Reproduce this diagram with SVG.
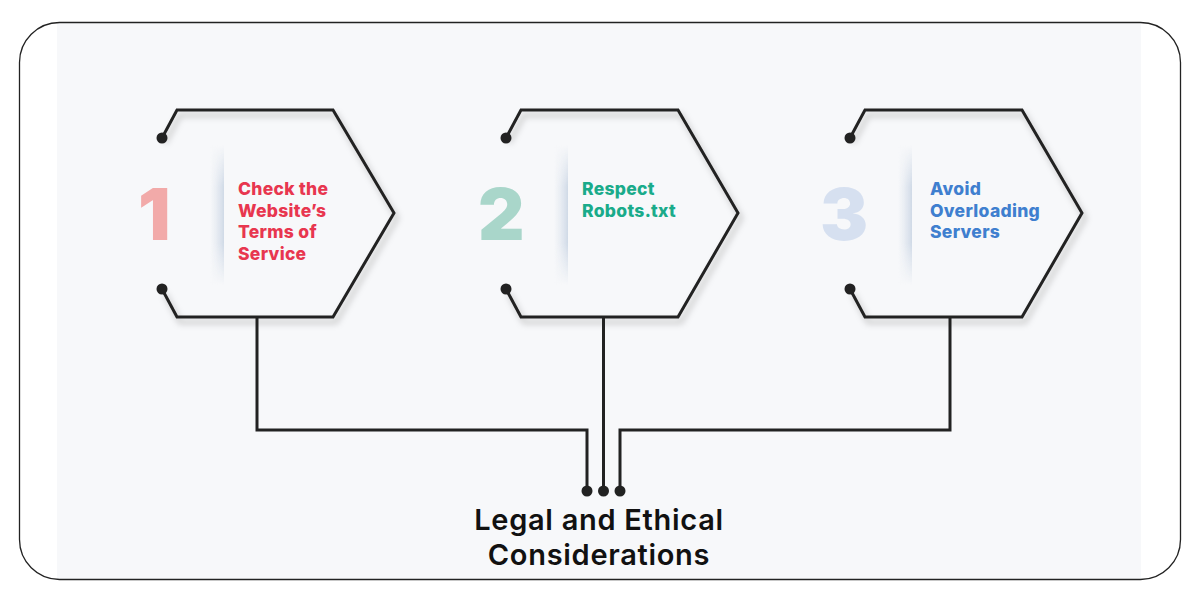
<svg xmlns="http://www.w3.org/2000/svg" width="1198" height="595" viewBox="0 0 1198 595">
<defs>
<style>
.hex{fill:none;stroke:#222;stroke-width:3;stroke-linejoin:miter;filter:url(#sh)}
.wire{fill:none;stroke:#222;stroke-width:3}
.dot{fill:#222}
.num{font-family:Inter,"Liberation Sans",sans-serif;font-weight:900;font-size:72px}
.lbl{font-family:Inter,"Liberation Sans",sans-serif;font-weight:800;font-size:17.5px;letter-spacing:0.3px}
.title{font-family:Inter,"Liberation Sans",sans-serif;font-weight:600;font-size:29px;letter-spacing:0.7px;fill:#111}
</style>
<filter id="sh" x="-10%" y="-10%" width="130%" height="130%">
<feDropShadow dx="3" dy="5" stdDeviation="3" flood-color="#000" flood-opacity="0.25"/>
</filter>
<linearGradient id="sep" x1="0" y1="0" x2="1" y2="0">
<stop offset="0" stop-color="#dde4ee" stop-opacity="0"/>
<stop offset="1" stop-color="#cfd9e6" stop-opacity="1"/>
</linearGradient>
<linearGradient id="fadeV" x1="0" y1="0" x2="0" y2="1">
<stop offset="0" stop-color="#fff" stop-opacity="0"/>
<stop offset="0.3" stop-color="#fff" stop-opacity="1"/>
<stop offset="0.7" stop-color="#fff" stop-opacity="1"/>
<stop offset="1" stop-color="#fff" stop-opacity="0"/>
</linearGradient>
<mask id="m"><rect x="0" y="145" width="1198" height="140" fill="url(#fadeV)"/></mask>
</defs>
<rect x="0" y="0" width="1198" height="595" fill="#fff"/>
<rect x="57" y="23" width="1084" height="556" fill="#f7f8fa"/>
<rect x="19.5" y="22.5" width="1161" height="557" rx="40" fill="none" stroke="#222" stroke-width="1.3"/>

<g id="node1">
<path class="hex" d="M162,138 L177,110 L333,110 L394,213 L333,317 L177,317 L162,289"/>
<circle class="dot" cx="162" cy="138" r="5.5"/>
<circle class="dot" cx="162" cy="289" r="5.5"/>
<rect x="210" y="145" width="14" height="140" fill="url(#sep)" mask="url(#m)"/>
<text class="num" x="138" y="240" fill="#f2aaa9">1</text>
<text class="lbl" fill="#e8364f"><tspan x="238" y="195">Check the</tspan><tspan x="238" y="217">Website’s</tspan><tspan x="238" y="238">Terms of</tspan><tspan x="238" y="260">Service</tspan></text>
</g>

<g id="node2">
<path class="hex" d="M506,138 L521,110 L678,110 L738,213 L678,317 L521,317 L506,289"/>
<circle class="dot" cx="506" cy="138" r="5.5"/>
<circle class="dot" cx="506" cy="289" r="5.5"/>
<rect x="554" y="145" width="14" height="140" fill="url(#sep)" mask="url(#m)"/>
<text class="num" x="478" y="240" fill="#a9d6ca">2</text>
<text class="lbl" fill="#1aab8a"><tspan x="582" y="195">Respect</tspan><tspan x="582" y="217">Robots.txt</tspan></text>
</g>

<g id="node3">
<path class="hex" d="M850,138 L865,110 L1022,110 L1082,213 L1022,317 L865,317 L850,289"/>
<circle class="dot" cx="850" cy="138" r="5.5"/>
<circle class="dot" cx="850" cy="289" r="5.5"/>
<rect x="898" y="145" width="14" height="140" fill="url(#sep)" mask="url(#m)"/>
<text class="num" x="820" y="240" fill="#d6e0f0">3</text>
<text class="lbl" fill="#3f7fcf"><tspan x="930" y="195">Avoid</tspan><tspan x="930" y="217">Overloading</tspan><tspan x="930" y="238">Servers</tspan></text>
</g>

<g id="connectors">
<path class="wire" d="M257,317 V430 H587 V491"/>
<path class="wire" d="M603.5,317 V491"/>
<path class="wire" d="M950,317 V430 H620 V491"/>
<circle class="dot" cx="587" cy="491" r="5.5"/>
<circle class="dot" cx="603.5" cy="491" r="5.5"/>
<circle class="dot" cx="620" cy="491" r="5.5"/>
</g>

<g id="title">
<text class="title" text-anchor="middle" x="599" y="530">Legal and Ethical</text>
<text class="title" text-anchor="middle" x="599" y="565">Considerations</text>
</g>
</svg>
